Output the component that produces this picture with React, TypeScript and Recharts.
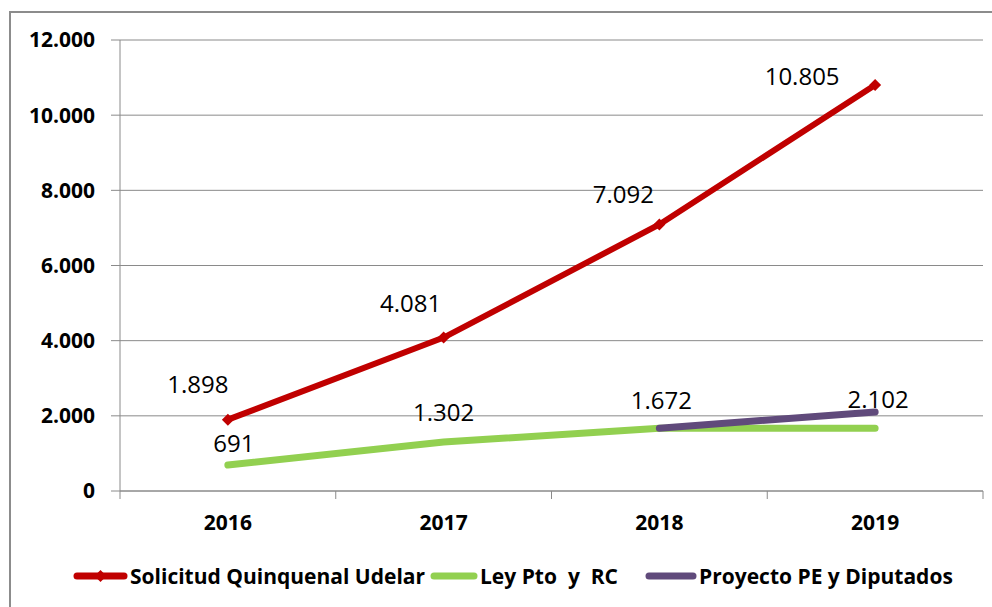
import React from 'react';
import { LineChart, Line, XAxis, YAxis, CartesianGrid, LabelList } from 'recharts';

const years = ['2016', '2017', '2018', '2019'];
const solicitud = [1898, 4081, 7092, 10805];
const ley = [691, 1302, 1672, 1672];
const proyecto: (number | null)[] = [null, null, 1672, 2102];
const yTicks = [0, 2000, 4000, 6000, 8000, 10000, 12000];
const xTicks = [-0.5, 0, 0.5, 1, 1.5, 2, 2.5, 3, 3.5];
const seriesNames = ['Solicitud Quinquenal Udelar', 'Ley Pto  y  RC', 'Proyecto PE y Diputados'];

const RED = '#C00000';
const GREEN = '#92D050';
const PURPLE = '#604A7B';
const GRID = '#8a8a8a';
const FONT = '"Open Sans", sans-serif';

// label offsets (style, not data)
const redOff: ([number, number] | null)[] = [[-30, -36], [-33, -35], [-36, -31], [-73, -9]];
const greenOff: ([number, number] | null)[] = [[6, -23], [0, -31], [2, -29], null];
const purpleOff: ([number, number] | null)[] = [null, null, null, [3, -13]];

const data = years.map((y, i) => ({
  x: i,
  year: y,
  solicitud: solicitud[i],
  ley: ley[i],
  proyecto: proyecto[i],
}));

const fmt = (v: number) => String(Math.round(v)).replace(/\B(?=(\d{3})+(?!\d))/g, '.');

const makeLabel = (offs: ([number, number] | null)[]) => (props: any) => {
  const { x, y, index, value } = props;
  const o = offs[index];
  if (!o || value == null) return null;
  return (
    <text
      x={x + o[0]}
      y={y + o[1]}
      textAnchor="middle"
      dominantBaseline="central"
      fontFamily={FONT}
      fontSize={24}
      fontWeight={500}
      fill="#000"
    >
      {fmt(value)}
    </text>
  );
};

const XTick = (props: any) => {
  const { x, y, payload } = props;
  const v = payload.value;
  if (Number.isInteger(v)) {
    return (
      <text
        x={x}
        y={y + 31}
        textAnchor="middle"
        dominantBaseline="central"
        fontFamily={FONT}
        fontWeight="bold"
        fontSize={21}
        fill="#000"
      >
        {years[v]}
      </text>
    );
  }
  return <line x1={x} x2={x} y1={y} y2={y + 8} stroke={GRID} strokeWidth={1} />;
};

const Diamond = (props: any) => {
  const { cx, cy } = props;
  if (cx == null || cy == null) return null;
  const r = 6;
  return (
    <path
      d={`M${cx},${cy - r}L${cx + r},${cy}L${cx},${cy + r}L${cx - r},${cy}Z`}
      fill={RED}
      stroke="none"
    />
  );
};

const legendItems = [
  { name: seriesNames[0], color: RED, left: 73, w: 55, marker: true },
  { name: seriesNames[1], color: GREEN, left: 430, w: 48, marker: false },
  { name: seriesNames[2], color: PURPLE, left: 645, w: 52, marker: false },
];

export default function App() {
  return (
    <div
      style={{
        position: 'absolute',
        left: 0,
        top: 0,
        width: 992,
        height: 607,
        overflow: 'hidden',
        background: '#fff',
      }}
    >
      <div
        style={{
          position: 'absolute',
          left: 9,
          top: 11,
          width: 1000,
          height: 1000,
          border: '2px solid #8c8c8c',
        }}
      />
      <LineChart
        width={992}
        height={607}
        data={data}
        margin={{ top: 40, right: 9, left: 0, bottom: 0 }}
        style={{ position: 'absolute', left: 0, top: 0 }}
      >
        <CartesianGrid horizontal vertical={false} stroke={GRID} strokeWidth={1} />
        <XAxis
          dataKey="x"
          type="number"
          domain={[-0.5, 3.5]}
          ticks={xTicks}
          interval={0}
          allowDecimals
          height={116}
          tickSize={0}
          tickMargin={0}
          tickLine={false}
          axisLine={{ stroke: GRID, strokeWidth: 1 }}
          tick={<XTick />}
        />
        <YAxis
          type="number"
          domain={[0, 12000]}
          ticks={yTicks}
          interval={0}
          width={120}
          tickSize={9}
          tickMargin={16}
          tickLine={{ stroke: GRID }}
          axisLine={{ stroke: GRID, strokeWidth: 1 }}
          tickFormatter={fmt}
          tick={{ fill: '#000', fontFamily: FONT, fontWeight: 'bold', fontSize: 21 }}
        />
        <Line
          dataKey="solicitud"
          stroke={RED}
          strokeWidth={6}
          strokeLinecap="round"
          dot={<Diamond />}
          activeDot={false}
          isAnimationActive={false}
        >
          <LabelList dataKey="solicitud" content={makeLabel(redOff)} />
        </Line>
        <Line
          dataKey="ley"
          stroke={GREEN}
          strokeWidth={7}
          strokeLinecap="round"
          dot={false}
          activeDot={false}
          isAnimationActive={false}
        >
          <LabelList dataKey="ley" content={makeLabel(greenOff)} />
        </Line>
        <Line
          dataKey="proyecto"
          stroke={PURPLE}
          strokeWidth={7}
          strokeLinecap="round"
          dot={false}
          activeDot={false}
          connectNulls={false}
          isAnimationActive={false}
        >
          <LabelList dataKey="proyecto" content={makeLabel(purpleOff)} />
        </Line>
      </LineChart>
      {legendItems.map((it) => (
        <div
          key={it.name}
          style={{
            position: 'absolute',
            left: it.left,
            top: 562,
            height: 28,
            display: 'flex',
            alignItems: 'center',
            whiteSpace: 'pre',
            fontFamily: FONT,
            fontWeight: 'bold',
            fontSize: 21,
            color: '#000',
          }}
        >
          <svg width={it.w} height={14} style={{ marginRight: 2 }}>
            <line
              x1={4}
              x2={it.w - 4}
              y1={7}
              y2={7}
              stroke={it.color}
              strokeWidth={7}
              strokeLinecap="round"
            />
            {it.marker && (
              <path
                d={`M${it.w / 2},1L${it.w / 2 + 6},7L${it.w / 2},13L${it.w / 2 - 6},7Z`}
                fill={it.color}
              />
            )}
          </svg>
          <span>{it.name}</span>
        </div>
      ))}
    </div>
  );
}
